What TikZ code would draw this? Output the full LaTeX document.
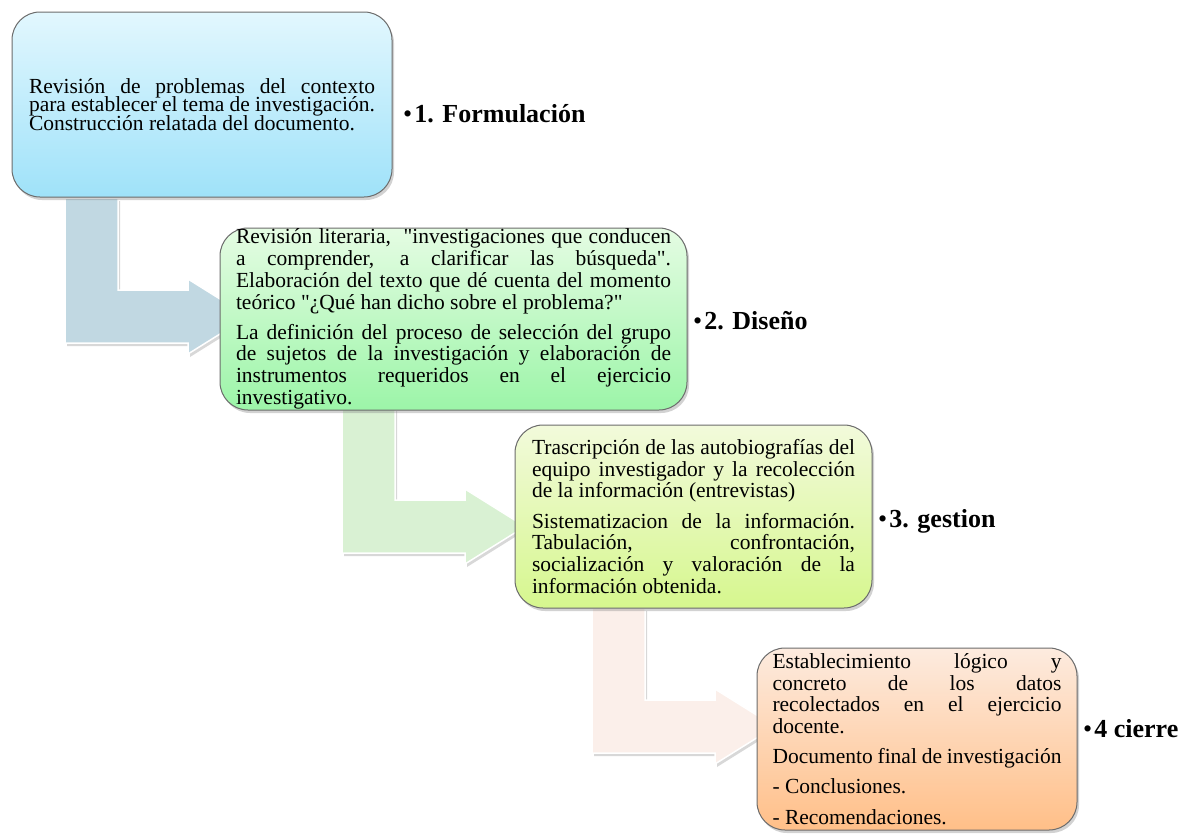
\documentclass[tikz,border=0pt]{standalone}
\usepackage{fontspec}
\setmainfont{Liberation Serif}[Ligatures=TeXOff]
\usetikzlibrary{shadows}
\definecolor{bAtop}{HTML}{E2F7FE}\definecolor{bAbot}{HTML}{9FE2F9}
\definecolor{bBtop}{HTML}{E5FCE3}\definecolor{bBbot}{HTML}{9CF5A8}
\definecolor{bCtop}{HTML}{F2FADB}\definecolor{bCbot}{HTML}{D6F78E}
\definecolor{bDtop}{HTML}{FDEBDF}\definecolor{bDbot}{HTML}{FFBF88}
\definecolor{arA}{HTML}{C1D8E2}\definecolor{arB}{HTML}{D9F1D3}\definecolor{arC}{HTML}{FBEFEA}
\def\arrshape{(0,0) -- (0,145) -- (123,145) -- (123,156) -- (183,118.5) -- (123,81) -- (123,92) -- (53,92) -- (53,0) -- cycle}
\newcommand\bodyA{\fontsize{21.5}{18.6}\selectfont\lineskiplimit=-30pt\relax}
\newcommand\bodyB{\fontsize{21.5}{21.7}\selectfont\lineskiplimit=-30pt\relax}
\newcommand\pgap{\par\vspace{8.5pt}}
\begin{document}
\begin{tikzpicture}[x=1pt,y=-1pt,
  bentarrow/.pic={
    \begin{scope}[shift={(2,3)}]\fill[gray,opacity=0.3] \arrshape;\end{scope}
    \path[pic actions, draw=white, line width=1.5pt] \arrshape;
  },
  stage/.style={draw=gray!85!black, line width=1pt, rounded corners=28pt, inner sep=0pt, align=justify,
    drop shadow={shadow xshift=2pt,shadow yshift=-3pt,opacity=0.35,fill=gray}},
  phase/.style={font=\fontsize{26}{30}\selectfont, anchor=base west, inner sep=0pt}]
\useasboundingbox (0,0) rectangle (1202,833);
\fill[white] (0,0) rectangle (1202,833);
% bent arrows
\pic[fill=arA] at (65,198) {bentarrow};
\pic[fill=arB] at (342,408) {bentarrow};
\pic[fill=arC] at (592,608) {bentarrow};
% stages
\node[stage, top color=bAtop, bottom color=bAbot, minimum width=380pt, minimum height=185pt, text width=346pt, font=\bodyA] (s1) at (202,104.5)
 {Revisión de problemas del contexto\linebreak para establecer el tema de investigación.\linebreak Construcción relatada del documento.};
\node[stage, top color=bBtop, bottom color=bBbot, minimum width=467pt, minimum height=182pt, text width=435pt, font=\bodyB] (s2) at (453.5,319)
 {Revisión literaria,\ \ "investigaciones que conducen\linebreak a comprender, a clarificar las búsqueda".\linebreak Elaboración del texto que dé cuenta del momento\linebreak teórico "¿Qué han dicho sobre el problema?"\pgap
 La definición del proceso de selección del grupo\linebreak de sujetos de la investigación y elaboración de\linebreak instrumentos requeridos en el ejercicio\linebreak investigativo.};
\node[stage, top color=bCtop, bottom color=bCbot, minimum width=357pt, minimum height=183pt, text width=323pt, font=\bodyB] (s3) at (693.5,516.5)
 {Trascripción de las autobiografías del\linebreak equipo investigador y la recolección\linebreak de la información (entrevistas)\pgap
 Sistematizacion de la información.\linebreak Tabulación, confrontación,\linebreak socialización y valoración de la\linebreak información obtenida.};
\node[stage, top color=bDtop, bottom color=bDbot, minimum width=320pt, minimum height=182pt, text width=289pt, font=\bodyB] (s4) at (917,739)
 {Establecimiento lógico y\linebreak concreto de los datos\linebreak recolectados en el ejercicio\linebreak docente.\pgap
 Documento final de investigación\pgap
 - Conclusiones.\pgap
 - Recomendaciones.};
% phase labels
\node[phase] (l1) at (403,122) {\textbullet\hspace{2pt}\textbf{1. Formulación}};
\node[phase] (l2) at (693,329) {\textbullet\hspace{2pt}\textbf{2. Diseño}};
\node[phase] (l3) at (878,527) {\textbullet\hspace{2pt}\textbf{3. gestion}};
\node[phase] (l4) at (1083,737) {\textbullet\hspace{2pt}\textbf{4 cierre}};
\end{tikzpicture}
\end{document}
